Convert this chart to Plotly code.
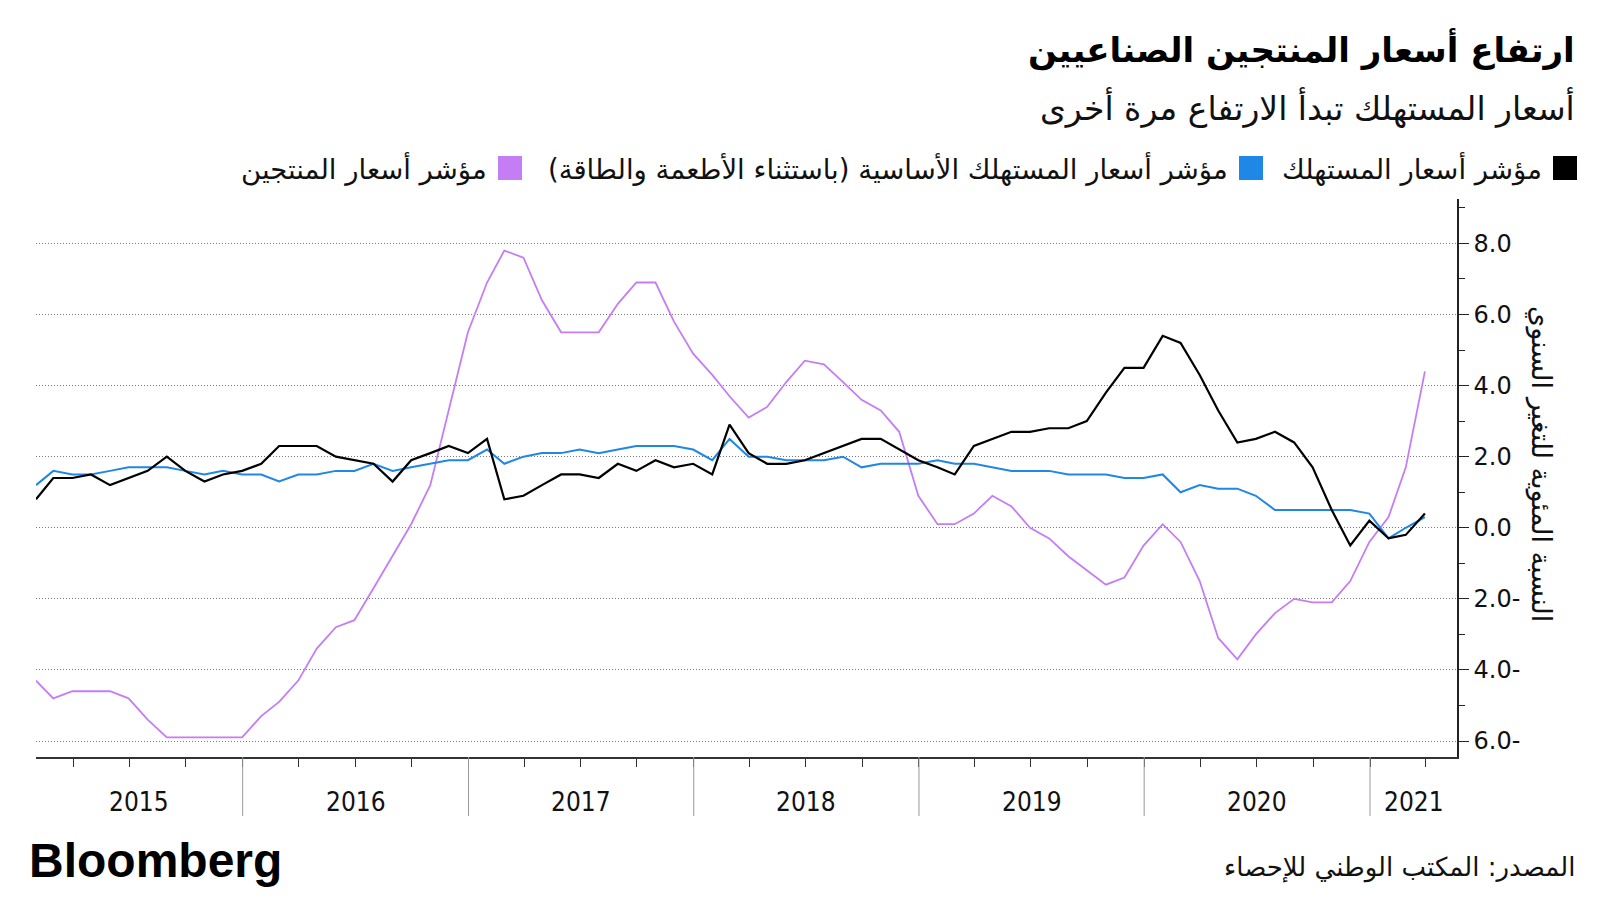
import pandas as pd
import plotly.graph_objects as go

# ---------------- data ----------------
months = pd.date_range("2015-01-31", periods=75, freq="ME")

cpi = [0.8, 1.4, 1.4, 1.5, 1.2, 1.4, 1.6, 2.0, 1.6, 1.3, 1.5, 1.6,
       1.8, 2.3, 2.3, 2.3, 2.0, 1.9, 1.8, 1.3, 1.9, 2.1, 2.3, 2.1,
       2.5, 0.8, 0.9, 1.2, 1.5, 1.5, 1.4, 1.8, 1.6, 1.9, 1.7, 1.8,
       1.5, 2.9, 2.1, 1.8, 1.8, 1.9, 2.1, 2.3, 2.5, 2.5, 2.2, 1.9,
       1.7, 1.5, 2.3, 2.5, 2.7, 2.7, 2.8, 2.8, 3.0, 3.8, 4.5, 4.5,
       5.4, 5.2, 4.3, 3.3, 2.4, 2.5, 2.7, 2.4, 1.7, 0.5, -0.5, 0.2,
       -0.3, -0.2, 0.4]

core_cpi = [1.2, 1.6, 1.5, 1.5, 1.6, 1.7, 1.7, 1.7, 1.6, 1.5, 1.6, 1.5,
            1.5, 1.3, 1.5, 1.5, 1.6, 1.6, 1.8, 1.6, 1.7, 1.8, 1.9, 1.9,
            2.2, 1.8, 2.0, 2.1, 2.1, 2.2, 2.1, 2.2, 2.3, 2.3, 2.3, 2.2,
            1.9, 2.5, 2.0, 2.0, 1.9, 1.9, 1.9, 2.0, 1.7, 1.8, 1.8, 1.8,
            1.9, 1.8, 1.8, 1.7, 1.6, 1.6, 1.6, 1.5, 1.5, 1.5, 1.4, 1.4,
            1.5, 1.0, 1.2, 1.1, 1.1, 0.9, 0.5, 0.5, 0.5, 0.5, 0.5, 0.4,
            -0.3, 0.0, 0.3]

ppi = [-4.3, -4.8, -4.6, -4.6, -4.6, -4.8, -5.4, -5.9, -5.9, -5.9, -5.9, -5.9,
       -5.3, -4.9, -4.3, -3.4, -2.8, -2.6, -1.7, -0.8, 0.1, 1.2, 3.3, 5.5,
       6.9, 7.8, 7.6, 6.4, 5.5, 5.5, 5.5, 6.3, 6.9, 6.9, 5.8, 4.9,
       4.3, 3.7, 3.1, 3.4, 4.1, 4.7, 4.6, 4.1, 3.6, 3.3, 2.7, 0.9,
       0.1, 0.1, 0.4, 0.9, 0.6, 0.0, -0.3, -0.8, -1.2, -1.6, -1.4, -0.5,
       0.1, -0.4, -1.5, -3.1, -3.7, -3.0, -2.4, -2.0, -2.1, -2.1, -1.5, -0.4,
       0.3, 1.7, 4.4]

series_names = ["مؤشر أسعار المستهلك",
                "مؤشر أسعار المستهلك الأساسية (باستثناء الأطعمة والطاقة)",
                "مؤشر أسعار المنتجين"]
years = [2015, 2016, 2017, 2018, 2019, 2020, 2021]
y_tickvals = [8, 6, 4, 2, 0, -2, -4, -6]
y_ticktext = ["8.0", "6.0", "4.0", "2.0", "0.0", "2.0-", "4.0-", "6.0-"]
y_minor = [9, 7, 5, 3, 1, -1, -3, -5]

title = "ارتفاع أسعار المنتجين الصناعيين"
subtitle = "أسعار المستهلك تبدأ الارتفاع مرة أخرى"
y_title = "النسبة المئوية للتغير السنوي"
source = "المصدر: المكتب الوطني للإحصاء"

# ---------------- style ----------------
C_CPI, C_CORE, C_PPI = "#000000", "#1F87E6", "#C57DF5"
AR_FONT = "DejaVu Sans"
W, H = 1600, 900
OFF = 8                               # page margin of the html body
L, R, T, B = 36, 1457, 199, 757       # plot area in screen pixels
x_range = ["2015-01-31", "2021-05-22"]
y_range = [-6.45, 9.25]


def px(xp):
    return (xp - L) / (R - L)


def py(yp):
    return (B - yp) / (B - T)


fig = go.Figure()
fig.add_trace(go.Scatter(x=months, y=ppi, mode="lines", name=series_names[2],
                         line=dict(color=C_PPI, width=1.8)))
fig.add_trace(go.Scatter(x=months, y=core_cpi, mode="lines", name=series_names[1],
                         line=dict(color=C_CORE, width=2)))
fig.add_trace(go.Scatter(x=months, y=cpi, mode="lines", name=series_names[0],
                         line=dict(color=C_CPI, width=2.2)))

annotations = []
shapes = []

# Title / subtitle
annotations.append(dict(text="<b>" + title + "</b>", xref="paper", yref="paper",
                        x=px(1577), y=py(49), xanchor="right", yanchor="middle",
                        showarrow=False, font=dict(family=AR_FONT, size=34, color="#000")))
annotations.append(dict(text=subtitle, xref="paper", yref="paper",
                        x=px(1577), y=py(107), xanchor="right", yanchor="middle",
                        showarrow=False, font=dict(family=AR_FONT, size=33, color="#111")))

# Legend (manual, right-to-left)
legend_items = [(series_names[0], C_CPI, 1577), (series_names[1], C_CORE, 1263),
                (series_names[2], C_PPI, 522)]
for name, col, right in legend_items:
    shapes.append(dict(type="rect", xref="paper", yref="paper",
                       x0=px(right - 24), x1=px(right), y0=py(180), y1=py(156),
                       fillcolor=col, line=dict(width=0)))
    annotations.append(dict(text=name, xref="paper", yref="paper",
                            x=px(right - 33), y=py(168), xanchor="right", yanchor="middle",
                            showarrow=False, font=dict(family=AR_FONT, size=27.5, color="#111")))

# Year separators and labels
rng0, rng1 = pd.Timestamp(x_range[0]), pd.Timestamp(x_range[1])
for yr in years:
    start = max(pd.Timestamp(f"{yr}-01-01"), rng0)
    end = min(pd.Timestamp(f"{yr + 1}-01-01"), rng1)
    if yr > years[0]:
        shapes.append(dict(type="line", xref="x", yref="paper",
                           x0=f"{yr}-01-01", x1=f"{yr}-01-01", y0=0, y1=py(816),
                           line=dict(color="#999999", width=1)))
    mid = start + (end - start) / 2
    annotations.append(dict(text=str(yr), xref="x", yref="paper", x=mid, y=py(802),
                            xanchor="center", yanchor="middle", showarrow=False,
                            font=dict(family="DejaVu Sans Condensed, DejaVu Sans", size=26,
                                      color="#111")))

# Y-axis title (rotated)
annotations.append(dict(text=y_title, xref="paper", yref="paper", x=px(1541), y=py(464),
                        xanchor="center", yanchor="middle", textangle=90, showarrow=False,
                        font=dict(family=AR_FONT, size=27, color="#111")))

# Footer
annotations.append(dict(text="<b>Bloomberg</b>", xref="paper", yref="paper",
                        x=px(27), y=py(860), xanchor="left", yanchor="middle", showarrow=False,
                        font=dict(family="Liberation Sans", size=48, color="#000")))
annotations.append(dict(text=source, xref="paper", yref="paper", x=px(1577), y=py(867),
                        xanchor="right", yanchor="middle", showarrow=False,
                        font=dict(family=AR_FONT, size=26, color="#111")))

fig.update_layout(
    width=W, height=H,
    margin=dict(l=L - OFF, r=W - R + OFF, t=T - OFF, b=H - B + OFF, pad=0),
    paper_bgcolor="white", plot_bgcolor="white",
    showlegend=False,
    annotations=annotations, shapes=shapes,
    xaxis=dict(type="date", range=x_range, showgrid=False, zeroline=False,
               showline=True, linecolor="#333333", linewidth=1.5,
               tickmode="linear", tick0="2015-01-01", dtick="M3",
               ticks="outside", ticklen=8, tickcolor="#333333", tickwidth=1,
               showticklabels=False),
    yaxis=dict(side="right", range=y_range, showgrid=True, gridcolor="#7a7a7a",
               griddash="1px,2px", gridwidth=1, zeroline=False,
               showline=True, linecolor="#222222", linewidth=1.5,
               tickmode="array", tickvals=y_tickvals, ticktext=y_ticktext,
               ticks="outside", ticklen=10, tickcolor="#222222", tickwidth=1,
               tickfont=dict(family="DejaVu Sans", size=24, color="#111"),
               minor=dict(tickmode="array", tickvals=y_minor, ticks="outside",
                          ticklen=6, tickcolor="#222222", showgrid=False)),
)

fig.write_html("out.html")
